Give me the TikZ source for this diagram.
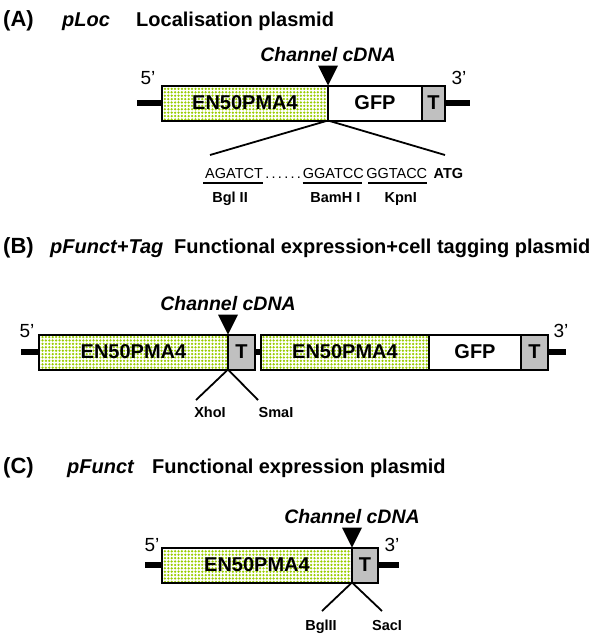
\documentclass[tikz,border=0pt]{standalone}
\usepackage{fontspec}
\setmainfont{Liberation Sans}
\usepackage{xcolor}
\definecolor{dotGreen}{HTML}{99CC00}
\definecolor{termGray}{HTML}{C0C0C0}
\usetikzlibrary{positioning,patterns.meta,calc}
\tikzdeclarepattern{
    name=promdots,
    type=uncolored,
    bottom left={(-.5pt,-.5pt)},
    top right={(3.9pt,3.9pt)},
    tile size={(3.4pt,3.4pt)},
    code={\fill (1.7pt,1.7pt) circle (1.25pt);}
}
\tikzset{
    box/.style={
        draw,
        line width=2pt,
        inner sep=0pt,
        outer sep=0pt,
        minimum height=35pt,
        font=\fontsize{20}{22}\selectfont\bfseries
    },
    promoter/.style={box, pattern=promdots, pattern color=dotGreen},
    gfpbox/.style={box, fill=white},
    termbox/.style={box, fill=termGray},
    stub/.style={line width=6pt},
    fan/.style={line width=1.8pt},
    uline/.style={line width=1.8pt},
    cdna/.style={font=\fontsize{19.5}{22}\selectfont\bfseries\itshape, inner sep=0pt},
    prime/.style={font=\fontsize{19}{20}\selectfont, inner sep=0pt},
    seq/.style={font=\fontsize{14.5}{16}\selectfont, inner sep=0pt},
    enzyme/.style={font=\fontsize{14.5}{16}\selectfont\bfseries, inner sep=0pt, anchor=base},
    letter/.style={font=\fontsize{22}{24}\selectfont\bfseries, inner sep=0pt, anchor=base west},
    pname/.style={font=\fontsize{20}{24}\selectfont\bfseries\itshape, inner sep=0pt, anchor=base west},
    ptitle/.style={font=\fontsize{20}{24}\selectfont\bfseries, inner sep=0pt, anchor=base west}
}

\begin{document}
\begin{tikzpicture}[x=1pt, y=-1pt]
    \useasboundingbox (0,0) rectangle (600,638);

    % (A) pLoc
    \node[letter] (aLetter) at (3,26) {(A)};
    \node[pname] (aName) at (62,26) {pLoc};
    \node[ptitle] (aTitle) at (136,26) {Localisation plasmid};

    \node[promoter, minimum width=166pt] (aProm) at (245,103) {EN50PMA4};
    \node[gfpbox, minimum width=94pt, right=0pt of aProm] (aGfp) {GFP};
    \node[termbox, minimum width=23pt, right=0pt of aGfp] (aTerm) {T};
    \coordinate (aL) at (137,103);
    \coordinate (aR) at (470,103);
    \draw[stub] (aL) -- (aProm.west);
    \draw[stub] (aTerm.east) -- (aR);
    \node[prime] (aFive) at (148,78) {5'};
    \node[prime] (aThree) at (459,78) {3'};

    \coordinate (aCut) at (aGfp.north west);
    \fill (aCut) -- ++(-10,-20) -- ++(20,0) -- cycle;
    \node[cdna, above=24pt of aCut] (aCdna) {Channel cDNA};

    \coordinate (aFanL) at (210,155);
    \coordinate (aFanR) at (445,155);
    \draw[fan] (aFanL) -- (aGfp.south west) -- (aFanR);

    % insert sequence
    \node[seq, anchor=base west] (sBgl) at (205,178) {AGATCT};
    \node[seq, base right=2pt of sBgl] (sDots) {.\kern2.3pt.\kern2.3pt.\kern2.3pt.\kern2.3pt.\kern2.3pt.};
    \node[seq, base right=1.5pt of sDots] (sBam) {GGATCC};
    \node[seq, base right=2pt of sBam] (sKpn) {GGTACC};
    \node[seq, base right=6pt of sKpn, font=\fontsize{14.5}{16}\selectfont\bfseries] (sAtg) {ATG};
    \draw[uline] ([shift={(-2pt,-5pt)}]sBgl.base west) -- ([yshift=-5pt]sBgl.base east);
    \draw[uline] ([yshift=-5pt]sBam.base west) -- ([shift={(-2pt,-5pt)}]sBam.base east);
    \draw[uline] ([shift={(2pt,-5pt)}]sKpn.base west) -- ([yshift=-5pt]sKpn.base east);
    \node[enzyme] (eBgl) at ([shift={(-4pt,-24pt)}]sBgl.base) {Bgl II};
    \node[enzyme] (eBam) at ([shift={(2pt,-24pt)}]sBam.base) {BamH I};
    \node[enzyme] (eKpn) at ([shift={(4pt,-24pt)}]sKpn.base) {KpnI};

    % (B) pFunct+Tag
    \node[letter] (bLetter) at (3,253) {(B)};
    \node[pname] (bName) at (50,253) {pFunct+Tag};
    \node[ptitle] (bTitle) at (174,253) {Functional expression+cell tagging plasmid};

    \node[promoter, minimum width=189pt] (bProm1) at (133.5,352) {EN50PMA4};
    \node[termbox, minimum width=27pt, right=0pt of bProm1] (bTerm1) {T};
    \node[promoter, minimum width=168pt, right=6pt of bTerm1] (bProm2) {EN50PMA4};
    \node[gfpbox, minimum width=92pt, right=0pt of bProm2] (bGfp) {GFP};
    \node[termbox, minimum width=27pt, right=0pt of bGfp] (bTerm2) {T};
    \coordinate (bL) at (21,352);
    \coordinate (bR) at (566,352);
    \draw[stub] (bL) -- (bProm1.west);
    \draw[stub] (bTerm1.east) -- (bProm2.west);
    \draw[stub] (bTerm2.east) -- (bR);
    \node[prime] (bFive) at (27,331) {5'};
    \node[prime] (bThree) at (561,331) {3'};

    \coordinate (bCut) at (bTerm1.north west);
    \fill (bCut) -- ++(-10,-20) -- ++(20,0) -- cycle;
    \node[cdna, above=24pt of bCut] (bCdna) {Channel cDNA};

    \coordinate (bFanL) at (196,400);
    \coordinate (bFanR) at (258,400);
    \draw[fan] (bFanL) -- (bTerm1.south west) -- (bFanR);
    \node[enzyme] (eXho) at (210,417) {XhoI};
    \node[enzyme] (eSma) at (276,417) {SmaI};

    % (C) pFunct
    \node[letter] (cLetter) at (3,473) {(C)};
    \node[pname] (cName) at (67,473) {pFunct};
    \node[ptitle] (cTitle) at (152,473) {Functional expression plasmid};

    \node[promoter, minimum width=190pt] (cProm) at (257,565) {EN50PMA4};
    \node[termbox, minimum width=26pt, right=0pt of cProm] (cTerm) {T};
    \coordinate (cL) at (145,565);
    \coordinate (cR) at (399,565);
    \draw[stub] (cL) -- (cProm.west);
    \draw[stub] (cTerm.east) -- (cR);
    \node[prime] (cFive) at (152,545) {5'};
    \node[prime] (cThree) at (392,545) {3'};

    \coordinate (cCut) at (cTerm.north west);
    \fill (cCut) -- ++(-10,-20) -- ++(20,0) -- cycle;
    \node[cdna, above=24pt of cCut] (cCdna) {Channel cDNA};

    \coordinate (cFanL) at (322,611);
    \coordinate (cFanR) at (382,611);
    \draw[fan] (cFanL) -- (cTerm.south west) -- (cFanR);
    \node[enzyme] (eBgl2) at (321,630) {BglII};
    \node[enzyme] (eSac) at (387,630) {SacI};
\end{tikzpicture}
\end{document}
